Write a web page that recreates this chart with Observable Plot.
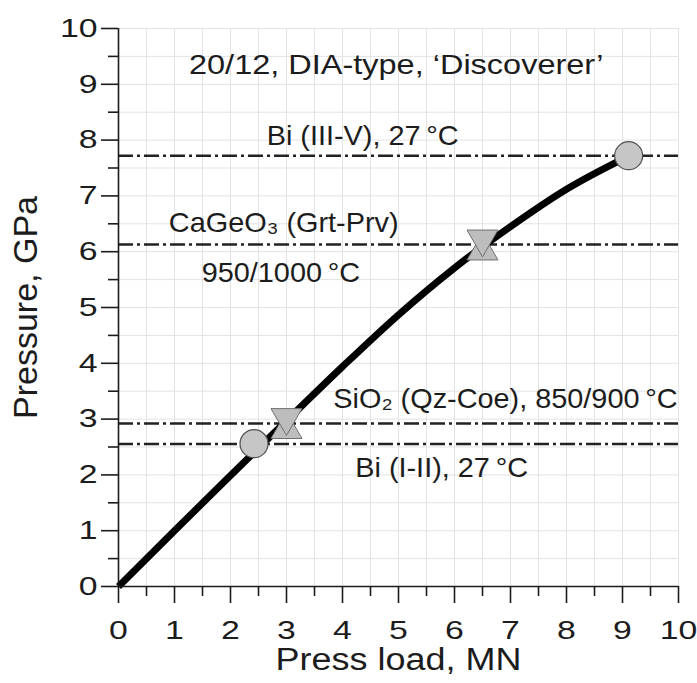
<!DOCTYPE html>
<html>
<head>
<meta charset="utf-8">
<script src="https://cdn.jsdelivr.net/npm/d3@7"></script>
<script src="https://cdn.jsdelivr.net/npm/@observablehq/plot@0.6"></script>
<style>
  body { margin: 0; background: #fff; }
  #chart svg { display: block; }
</style>
</head>
<body>
<div id="chart"></div>
<script>
// ---- data ----
const curveX = [0, 1, 2, 3, 4, 5, 6, 7, 8, 9.1];
const curveY = [0, 1.0, 1.99, 2.97, 3.94, 4.87, 5.71, 6.45, 7.12, 7.71];
const circleX = [2.42, 9.11];
const circleY = [2.56, 7.72];
const hourglassX = [3.0, 6.5];
const hourglassY = [2.92, 6.12];
const refLevels = [7.72, 6.13, 2.92, 2.555];
const labelText = ["20/12, DIA-type, \u2018Discoverer\u2019", "Bi (III-V), 27\u2009\u00b0C", "CaGeO\u2083 (Grt-Prv)", "950/1000\u2009\u00b0C", "SiO\u2082 (Qz-Coe), 850/900\u2009\u00b0C", "Bi (I-II), 27\u2009\u00b0C"];
const labelX = [4.96, 4.36, 2.95, 2.9, 6.91, 5.77];
const labelY = [9.18, 7.91, 6.35, 5.45, 3.19, 1.96];
const majorTicks = [0, 1, 2, 3, 4, 5, 6, 7, 8, 9, 10];
const minorTicks = [0.5, 1.5, 2.5, 3.5, 4.5, 5.5, 6.5, 7.5, 8.5, 9.5];
const gridTicks = [0, 0.5, 1, 1.5, 2, 2.5, 3, 3.5, 4, 4.5, 5, 5.5, 6, 6.5, 7, 7.5, 8, 8.5, 9, 9.5, 10];
const xTitle = "Press load, MN";
const yTitle = "Pressure, GPa";

const ink = "#1c1c1c";
const idx = (a) => a.map((_, i) => i);

const plot = Plot.plot({
  width: 697,
  height: 683,
  marginLeft: 118,
  marginRight: 19,
  marginTop: 28,
  marginBottom: 97,
  style: { fontFamily: "'Liberation Sans', Arial, sans-serif", color: ink, background: "#fff" },
  x: { domain: [0, 10], label: null },
  y: { domain: [0, 10], label: null },
  marks: [
    Plot.gridX({ ticks: gridTicks, stroke: "#e3e3e3", strokeOpacity: 1, strokeWidth: 1 }),
    Plot.gridY({ ticks: gridTicks, stroke: "#e3e3e3", strokeOpacity: 1, strokeWidth: 1 }),
    Plot.ruleY(refLevels, { x1: 0, x2: 10, stroke: "#222", strokeWidth: 2.6, strokeDasharray: "15,4,3,4" }),
    Plot.line(idx(curveX), { x: (i) => curveX[i], y: (i) => curveY[i], curve: "monotone-x", stroke: "#000", strokeWidth: 7, strokeLinecap: "butt" }),
    Plot.dot(idx(hourglassX), { x: (i) => hourglassX[i], y: (i) => hourglassY[i], symbol: "triangle", r: 11.5, dy: 6, fill: "#bdbdbd", stroke: "#707070", strokeWidth: 1 }),
    Plot.dot(idx(hourglassX), { x: (i) => hourglassX[i], y: (i) => hourglassY[i], symbol: "triangle", r: 11.5, dy: -6, rotate: 180, fill: "#bdbdbd", stroke: "#707070", strokeWidth: 1 }),
    Plot.dot(idx(circleX), { x: (i) => circleX[i], y: (i) => circleY[i], r: 14, fill: "#c6c6c6", stroke: "#505050", strokeWidth: 1.2 }),
    Plot.text(idx(labelText), { x: (i) => labelX[i], y: (i) => labelY[i], text: (i) => labelText[i], textAnchor: "middle", lineAnchor: "bottom", fontSize: 28, fill: ink }),
    Plot.ruleX([0], { stroke: ink, strokeWidth: 1.6 }),
    Plot.ruleY([0], { stroke: ink, strokeWidth: 1.6 }),
    Plot.axisX({ ticks: majorTicks, tickSize: 17, tickPadding: 17, fontSize: 26, stroke: ink, strokeWidth: 1.6, label: null }),
    Plot.axisX({ ticks: minorTicks, tickSize: 10, tickFormat: () => "", stroke: ink, strokeWidth: 1.6, label: null }),
    Plot.axisY({ ticks: majorTicks, tickSize: 17, tickPadding: 4, fontSize: 26, stroke: ink, strokeWidth: 1.6, label: null }),
    Plot.axisY({ ticks: minorTicks, tickSize: 10, tickFormat: () => "", stroke: ink, strokeWidth: 1.6, label: null }),
    Plot.text([xTitle], { frameAnchor: "bottom", text: (d) => d, textAnchor: "middle", lineAnchor: "bottom", dy: 83, fontSize: 31, fill: ink }),
    Plot.text([yTitle], { frameAnchor: "left", text: (d) => d, textAnchor: "middle", lineAnchor: "middle", rotate: -90, dx: -92, fontSize: 34, fill: ink })
  ]
});

document.getElementById("chart").append(plot);

// horizontal widening of the lettering, as in the reference
function widen(t, k) {
  const len = t.getComputedTextLength();
  t.setAttribute("textLength", (len * k).toFixed(2));
  t.setAttribute("lengthAdjust", "spacingAndGlyphs");
}
plot.querySelectorAll("text").forEach((t) => {
  const s = t.textContent;
  if (!s.trim()) return;
  const g = t.closest("g[aria-label]");
  const role = g ? g.getAttribute("aria-label") : "";
  if (role === "x-axis tick label" || role === "y-axis tick label") widen(t, 1.3);
  else if (s === xTitle) widen(t, 1.16);
  else if (labelText.includes(s)) widen(t, s === labelText[0] ? 1.16 : 1.03);
});
</script>
</body>
</html>
